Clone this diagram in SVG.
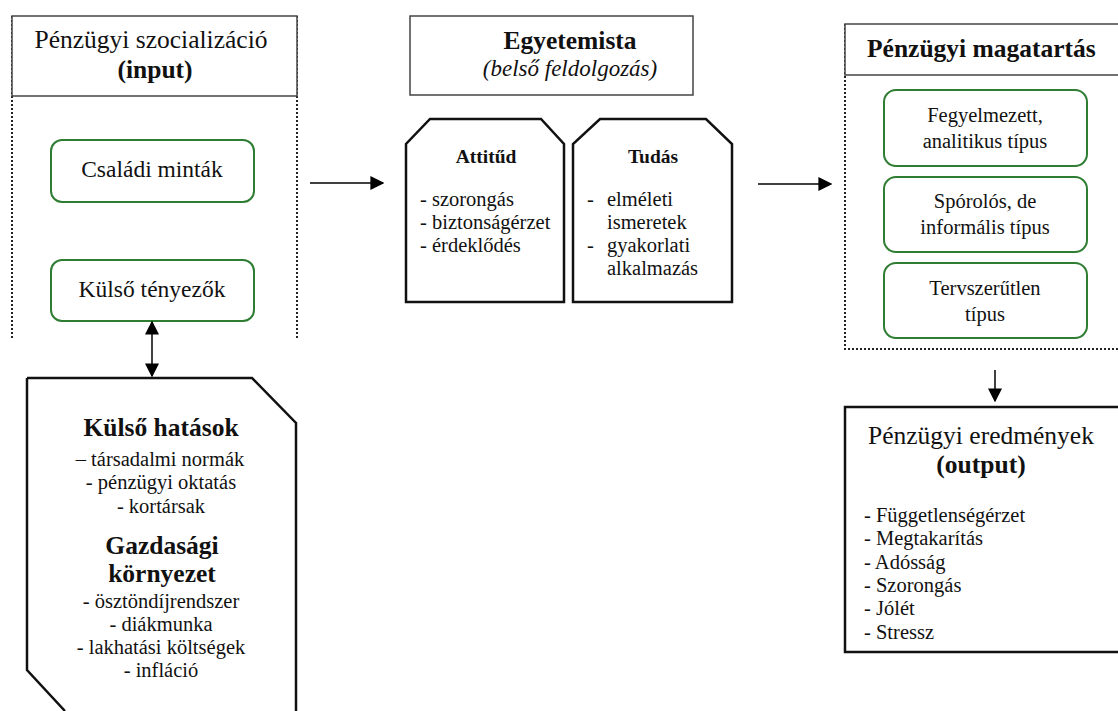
<svg xmlns="http://www.w3.org/2000/svg" width="1118" height="711" viewBox="0 0 1118 711" font-family="'Liberation Serif', 'DejaVu Serif', serif">
<defs>
<style>
text{fill:#111}
.b{font-weight:bold}
.c{text-anchor:middle}
.h{font-size:25.5px}
.t{font-size:20.5px}
.dot{fill:none;stroke:#222;stroke-width:2;stroke-dasharray:2 2}
.box{fill:#fff;stroke:#444;stroke-width:1.5}
.green{fill:#fff;stroke:#2e7d32;stroke-width:2}
.shape{fill:#fff;stroke:#111;stroke-width:2.5}
.con{stroke:#000;stroke-width:1.5;fill:none}
</style>
<marker id="ah" viewBox="0 0 10 10" refX="9" refY="5" markerWidth="14" markerHeight="14" markerUnits="userSpaceOnUse" orient="auto-start-reverse">
<path d="M0,0 L10,5 L0,10 z" fill="#000"/>
</marker>
</defs>
<rect width="1118" height="711" fill="#fff"/>

<g id="input-panel">
<path class="dot" d="M12,16 V340 M297,16 V340"/>
<rect class="box" x="12" y="16" width="285" height="80"/>
<text x="151" y="48" class="c h">Pénzügyi szocializáció</text>
<text x="155" y="78" class="c b h">(input)</text>
</g>
<g id="csaladi">
<rect class="green" x="51" y="140" width="203" height="62" rx="11"/>
<text x="152" y="177" class="c" font-size="23.5">Családi minták</text>
</g>
<g id="kulso-tenyezok">
<rect class="green" x="51" y="260" width="203" height="61" rx="11"/>
<text x="152" y="297" class="c" font-size="23.5">Külső tényezők</text>
</g>

<g id="kulso-hatasok">
<path class="shape" d="M27,378 H252 L296,423 V720 M65,711 L27,670 V378"/>
<text x="161" y="436" class="c b h">Külső hatások</text>
<text x="160" y="466" class="c t">– társadalmi normák</text>
<text x="161" y="489" class="c t">- pénzügyi oktatás</text>
<text x="161" y="513" class="c t">- kortársak</text>
<text x="162" y="554" class="c b h">Gazdasági</text>
<text x="162" y="582" class="c b h">környezet</text>
<text x="161" y="608" class="c t">- ösztöndíjrendszer</text>
<text x="161" y="631" class="c t">- diákmunka</text>
<text x="161" y="654" class="c t">- lakhatási költségek</text>
<text x="161" y="677" class="c t">- infláció</text>
</g>

<g id="egyetemista">
<rect class="box" x="410" y="16" width="283" height="79"/>
<text x="570" y="49" class="c b h">Egyetemista</text>
<text x="570" y="76" class="c" font-size="23" font-style="italic">(belső feldolgozás)</text>
</g>
<g id="attitud">
<path class="shape" d="M406,302 V144 L430,119 H541 L564,144 V302 Z"/>
<text x="486" y="163" class="c b" font-size="19.5">Attitűd</text>
<text x="420" y="206" class="t">- szorongás</text>
<text x="420" y="229" class="t">- biztonságérzet</text>
<text x="420" y="252" class="t">- érdeklődés</text>
</g>
<g id="tudas">
<path class="shape" d="M573,302 V144 L600,119 H706 L732,144 V302 Z"/>
<text x="653" y="163" class="c b" font-size="19.5">Tudás</text>
<text x="587" y="206" class="t">-</text>
<text x="607" y="206" class="t">elméleti</text>
<text x="607" y="229" class="t">ismeretek</text>
<text x="587" y="252" class="t">-</text>
<text x="607" y="252" class="t">gyakorlati</text>
<text x="607" y="275" class="t">alkalmazás</text>
</g>

<g id="magatartas-panel">
<path class="dot" d="M845,24 V349 H1125"/>
<rect class="box" x="845" y="24" width="290" height="51"/>
<text x="867" y="57" class="b h">Pénzügyi magatartás</text>
</g>
<g id="fegyelmezett">
<rect class="green" x="884" y="90" width="203" height="76" rx="12"/>
<text x="985" y="122" class="c t">Fegyelmezett,</text>
<text x="985" y="148" class="c t">analitikus típus</text>
</g>
<g id="sporolos">
<rect class="green" x="884" y="177" width="203" height="75" rx="12"/>
<text x="985" y="208" class="c t">Spórolós, de</text>
<text x="985" y="234" class="c t">informális típus</text>
</g>
<g id="tervszerutlen">
<rect class="green" x="884" y="263" width="203" height="75" rx="12"/>
<text x="985" y="295" class="c t">Tervszerűtlen</text>
<text x="985" y="321" class="c t">típus</text>
</g>

<g id="eredmenyek">
<rect class="shape" x="845" y="407" width="290" height="245" stroke-width="2"/>
<text x="981" y="444" class="c h">Pénzügyi eredmények</text>
<text x="981" y="473" class="c b h">(output)</text>
<text x="864" y="522" class="t">- Függetlenségérzet</text>
<text x="864" y="545" class="t">- Megtakarítás</text>
<text x="864" y="569" class="t">- Adósság</text>
<text x="864" y="592" class="t">- Szorongás</text>
<text x="864" y="615" class="t">- Jólét</text>
<text x="864" y="639" class="t">- Stressz</text>
</g>

<g id="connectors">
<line class="con" x1="152" y1="322" x2="152" y2="376" marker-start="url(#ah)" marker-end="url(#ah)"/>
<line class="con" x1="310" y1="183" x2="383" y2="183" marker-end="url(#ah)"/>
<line class="con" x1="758" y1="184" x2="831" y2="184" marker-end="url(#ah)"/>
<line class="con" x1="995" y1="370" x2="995" y2="401" marker-end="url(#ah)"/>
</g>
</svg>
